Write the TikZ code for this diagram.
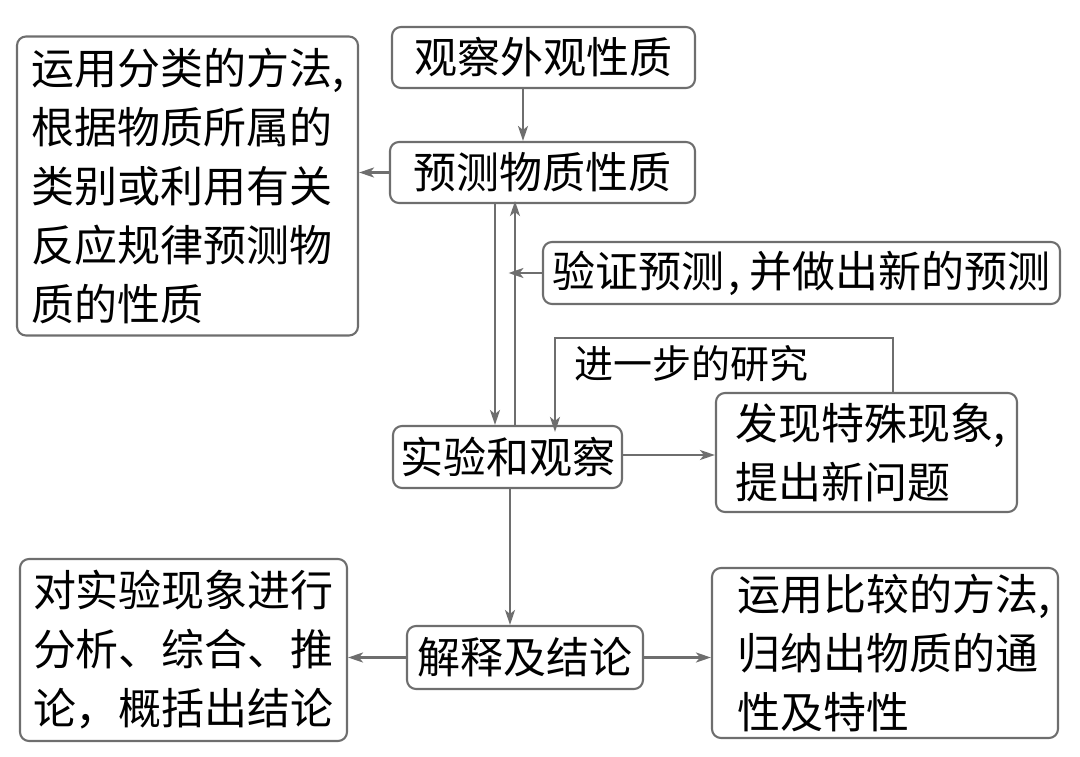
\documentclass[tikz,border=0pt]{standalone}
\usepackage{fontspec}
\setmainfont{Noto Sans CJK SC}
\usetikzlibrary{arrows.meta}
\definecolor{lc}{HTML}{6E6E6E}
\begin{document}
\begin{tikzpicture}[x=1pt,y=-1pt,
  box/.style={draw=lc, line width=2.1pt, rounded corners=9pt, align=left,
    inner sep=0pt, text=black, font=\fontsize{43pt}{59pt}\selectfont},
  arr/.style={draw=lc, line width=2.1pt,
    -{Stealth[length=15pt,width=10pt,inset=4pt]}},
  lab/.style={inner sep=0pt, text=black, font=\fontsize{39pt}{39pt}\selectfont}]
\useasboundingbox (0,0) rectangle (1080,757);

\node[box, minimum width=303pt, minimum height=61pt] (obs) at (543.5,57.5) {观察外观性质};
\node[box, minimum width=305pt, minimum height=61pt] (pred) at (542.5,172.5) {预测物质性质};
\node[box, minimum width=341pt, minimum height=299pt] (L1) at (187.5,186)
  {运用分类的方法,\\根据物质所属的\\类别或利用有关\\反应规律预测物\\质的性质};
\node[box, minimum width=517pt, minimum height=62pt] (ver) at (801.5,273) {验证预测\kern4pt,\kern9pt 并做出新的预测};
\node[box, minimum width=229pt, minimum height=62pt] (exp) at (507.5,457) {实验和观察};
\node[box, minimum width=301pt, minimum height=119pt] (find) at (866.5,452.5)
  {\kern8pt 发现特殊现象,\\ \kern8pt 提出新问题};
\node[box, minimum width=327pt, minimum height=182pt] (L2) at (183.5,650)
  {对实验现象进行\\分析、综合、推\\论，概括出结论};
\node[box, minimum width=236pt, minimum height=63pt] (con) at (525,657.5) {解释及结论};
\node[box, minimum width=346pt, minimum height=170pt] (R2) at (885,653)
  {\kern18pt 运用比较的方法,\\ \kern18pt 归纳出物质的通\\ \kern18pt 性及特性};
\node[lab, anchor=west] (further) at (574,364) {进一步的研究};

\coordinate (bk) at (555,338);

\draw[arr] ([xshift=-20.5pt]obs.south) -- ([xshift=-20.5pt]obs.south |- pred.north);
\draw[arr] (pred.west) -- (pred.west -| L1.east);
\draw[arr] ([xshift=-47.5pt]pred.south) -- ([xshift=-47.5pt]pred.south |- exp.north);
\draw[arr] ([xshift=7.5pt]exp.north) -- ([xshift=7.5pt,yshift=3pt]exp.north |- pred.south);
\draw[arr] (ver.west) -- ([xshift=1pt]ver.west -| exp.north);
\draw[arr] ([xshift=26.5pt]find.north) |- (bk) -- ([yshift=-7pt]bk |- exp.north);
\draw[arr] ([yshift=2pt]exp.east) -- ([yshift=2pt]exp.east -| find.west);
\draw[arr] ([xshift=2.5pt]exp.south) -- ([xshift=2.5pt]exp.south |- con.north);
\draw[arr] (con.west) -- (con.west -| L2.east);
\draw[arr] (con.east) -- (con.east -| R2.west);
\end{tikzpicture}
\end{document}
